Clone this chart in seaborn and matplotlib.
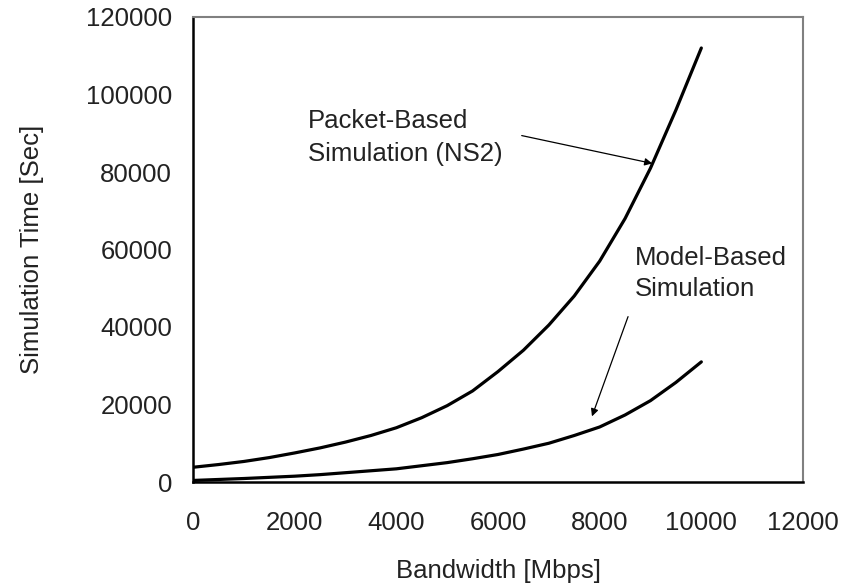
import numpy as np
import pandas as pd
import matplotlib
matplotlib.use("Agg")
import matplotlib.pyplot as plt
import seaborn as sns

bandwidth = [0, 500, 1000, 1500, 2000, 2500, 3000, 3500, 4000, 4500, 5000,
             5500, 6000, 6500, 7000, 7500, 8000, 8500, 9000, 9500, 10000]
packet_based = [3800, 4500, 5300, 6300, 7500, 8800, 10300, 12000, 14000, 16600, 19700,
                23500, 28500, 34000, 40500, 48000, 57000, 68000, 81000, 96000, 112000]
model_based = [400, 650, 900, 1200, 1500, 1900, 2400, 2900, 3400, 4200, 5000,
               6000, 7100, 8500, 10000, 12000, 14200, 17300, 21000, 25700, 31000]
series_names = ["Packet-Based Simulation (NS2)", "Model-Based Simulation"]
x_ticks = [0, 2000, 4000, 6000, 8000, 10000, 12000]
y_ticks = [0, 20000, 40000, 60000, 80000, 100000, 120000]

df = pd.DataFrame({
    "Bandwidth": bandwidth * 2,
    "Time": packet_based + model_based,
    "Series": [series_names[0]] * len(bandwidth) + [series_names[1]] * len(bandwidth),
})

sns.set_style("white")
plt.rcParams['font.family'] = ['Liberation Sans', 'DejaVu Sans']

fig = plt.figure(figsize=(8.55, 5.88), dpi=100)
ax = fig.add_axes([193/855, 1-482/588, 610/855, 465/588])

sns.lineplot(data=df, x="Bandwidth", y="Time", hue="Series",
             palette=["black", "black"], linewidth=2.3, legend=False, ax=ax)
for ln in ax.get_lines():
    ln.set_solid_joinstyle('round')

ax.set_xlim(0, 12000)
ax.set_ylim(0, 120000)
ax.set_xticks(x_ticks)
ax.set_yticks(y_ticks)
ax.set_xticklabels([str(v) for v in x_ticks])
ax.set_yticklabels([str(v) for v in y_ticks])

ax.tick_params(axis='both', direction='in', length=7, width=1.6, colors='black',
               labelsize=18.5, labelcolor='#222222')
ax.tick_params(axis='y', pad=15)
ax.tick_params(axis='x', pad=21)

for side in ['left', 'bottom']:
    ax.spines[side].set_color('black')
    ax.spines[side].set_linewidth(1.8)
for side in ['top', 'right']:
    ax.spines[side].set_color('#808080')
    ax.spines[side].set_linewidth(1.5)

ax.set_xlabel("Bandwidth [Mbps]", fontsize=18.5, color='#222222')
ax.set_ylabel("Simulation Time [Sec]", fontsize=18.5, color='#222222')
ax.xaxis.set_label_coords(0.5, -0.165)
ax.yaxis.set_label_coords(-0.245, 0.5)

ax.text(2262, 96300, "Packet-Based\nSimulation (NS2)", fontsize=18.5, color='#222222',
        ha='left', va='top', linespacing=1.5)
ax.annotate("", xy=(9088, 82060), xytext=(6413, 89550),
            arrowprops=dict(arrowstyle='-|>', lw=0.9, color='black', mutation_scale=11))

ax.text(8695, 61000, "Model-Based\nSimulation", fontsize=18.5, color='#222222',
        ha='left', va='top', linespacing=1.4)
ax.annotate("", xy=(7830, 16260), xytext=(8577, 43350),
            arrowprops=dict(arrowstyle='-|>', lw=0.9, color='black', mutation_scale=11))

fig.savefig("out.png", dpi=100)
